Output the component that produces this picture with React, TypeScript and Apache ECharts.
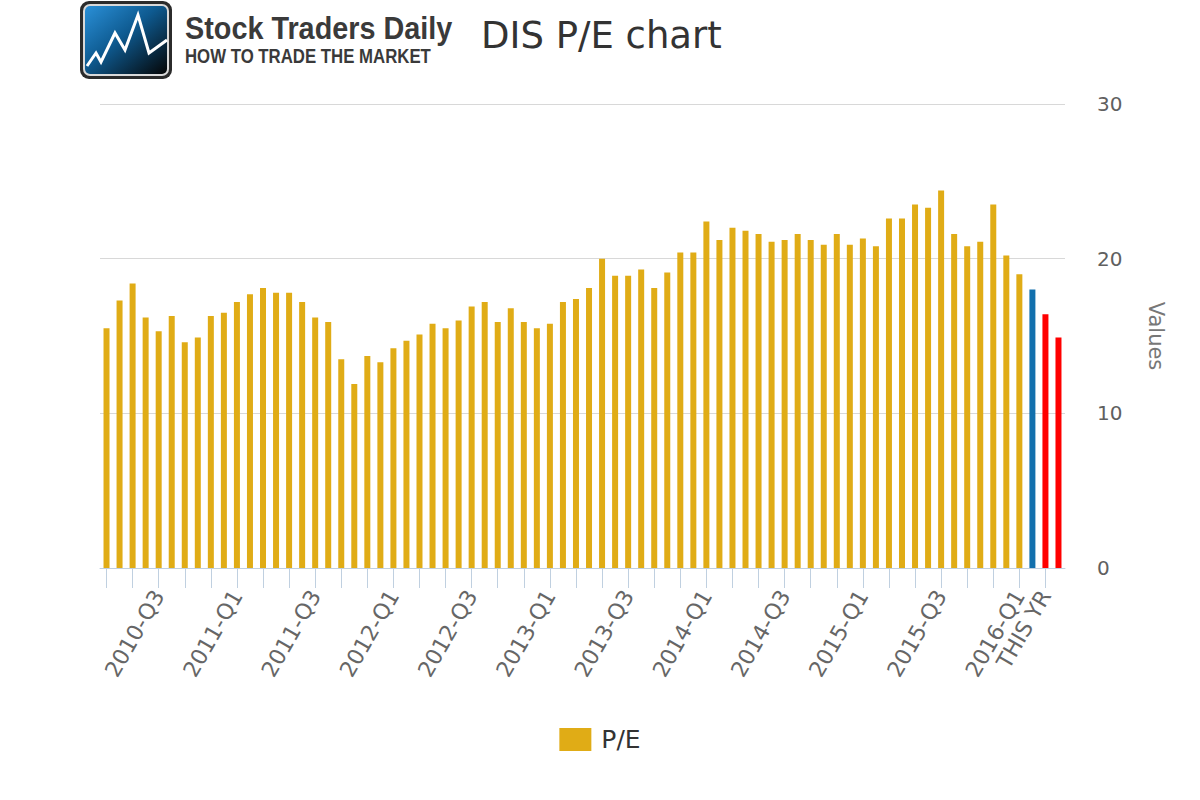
import React, { useEffect, useRef } from "react";
import * as echarts from "echarts";

const categories: string[] = [
  "2010-Q1",
  "2010-Q2", "2010-Q2", "2010-Q2",
  "2010-Q3", "2010-Q3", "2010-Q3",
  "2010-Q4", "2010-Q4", "2010-Q4",
  "2011-Q1", "2011-Q1", "2011-Q1",
  "2011-Q2", "2011-Q2", "2011-Q2",
  "2011-Q3", "2011-Q3", "2011-Q3",
  "2011-Q4", "2011-Q4", "2011-Q4",
  "2012-Q1", "2012-Q1", "2012-Q1",
  "2012-Q2", "2012-Q2", "2012-Q2",
  "2012-Q3", "2012-Q3", "2012-Q3",
  "2012-Q4", "2012-Q4", "2012-Q4",
  "2013-Q1", "2013-Q1", "2013-Q1",
  "2013-Q2", "2013-Q2", "2013-Q2",
  "2013-Q3", "2013-Q3", "2013-Q3",
  "2013-Q4", "2013-Q4", "2013-Q4",
  "2014-Q1", "2014-Q1", "2014-Q1",
  "2014-Q2", "2014-Q2", "2014-Q2",
  "2014-Q3", "2014-Q3", "2014-Q3",
  "2014-Q4", "2014-Q4", "2014-Q4",
  "2015-Q1", "2015-Q1", "2015-Q1",
  "2015-Q2", "2015-Q2", "2015-Q2",
  "2015-Q3", "2015-Q3", "2015-Q3",
  "2015-Q4", "2015-Q4", "2015-Q4",
  "2016-Q1", "2016-Q1",
  "THIS YR", "NEXT YR",
];

const peValues: number[] = [
  15.5, 17.3, 18.4, 16.2, 15.3, 16.3, 14.6, 14.9, 16.3, 16.5,
  17.2, 17.7, 18.1, 17.8, 17.8, 17.2, 16.2, 15.9, 13.5, 11.9,
  13.7, 13.3, 14.2, 14.7, 15.1, 15.8, 15.5, 16.0, 16.9, 17.2,
  15.9, 16.8, 15.9, 15.5, 15.8, 17.2, 17.4, 18.1, 20.0, 18.9,
  18.9, 19.3, 18.1, 19.1, 20.4, 20.4, 22.4, 21.2, 22.0, 21.8,
  21.6, 21.1, 21.2, 21.6, 21.2, 20.9, 21.6, 20.9, 21.3, 20.8,
  22.6, 22.6, 23.5, 23.3, 24.4, 21.6, 20.8, 21.1, 23.5, 20.2,
  19.0, 18.0, 16.4, 14.9,
];

const yTicks = [0, 10, 20, 30];

const GOLD = "#E0AC16";
const CURRENT_COLOR = "#1270AD";
const PROJECTION_COLOR = "#FF0000";
const CURRENT_INDEX = 71;
const PROJECTION_INDICES = [72, 73];

const labelIndices = new Set<number>([4, 10, 16, 22, 28, 34, 40, 46, 52, 58, 64, 70, 72]);

export default function App() {
  const ref = useRef<HTMLDivElement>(null);

  useEffect(() => {
    if (!ref.current) return;
    const chart = echarts.init(ref.current, null, { renderer: "svg" });

    const data = peValues.map((v, i) => {
      let color = GOLD;
      if (i === CURRENT_INDEX) color = CURRENT_COLOR;
      if (PROJECTION_INDICES.includes(i)) color = PROJECTION_COLOR;
      return { value: v, itemStyle: { color } };
    });

    const option: any = {
      animation: false,
      backgroundColor: "#ffffff",
      textStyle: { fontFamily: "DejaVu Sans" },
      title: {
        text: "DIS P/E chart",
        left: 476,
        top: 12,
        textStyle: {
          fontFamily: "DejaVu Sans",
          fontSize: 37,
          fontWeight: "normal",
          color: "#333333",
        },
      },
      legend: {
        left: "center",
        top: 722,
        itemWidth: 32,
        itemHeight: 23,
        itemGap: 10,
        icon: "rect",
        textStyle: {
          fontFamily: "DejaVu Sans",
          fontSize: 25,
          lineHeight: 23,
          color: "#333333",
          padding: [0, 0, 0, 5],
        },
        data: [{ name: "P/E", itemStyle: { color: GOLD } }],
      },
      grid: { left: 100, right: 135, top: 104, bottom: 232, containLabel: false },
      xAxis: {
        type: "category",
        data: categories,
        boundaryGap: true,
        axisLine: { show: true, lineStyle: { color: "#C0D0E0", width: 1 } },
        axisTick: {
          show: true,
          alignWithLabel: true,
          interval: 1,
          length: 20,
          lineStyle: { color: "#C0D0E0", width: 1 },
        },
        axisLabel: {
          interval: (idx: number) => labelIndices.has(idx),
          rotate: 60,
          margin: 24,
          fontFamily: "DejaVu Sans",
          fontSize: 22,
          color: "#666666",
        },
        splitLine: { show: false },
      },
      yAxis: {
        type: "value",
        position: "right",
        min: yTicks[0],
        max: yTicks[yTicks.length - 1],
        interval: 10,
        name: "Values",
        nameLocation: "middle",
        nameRotate: -90,
        nameGap: 80,
        nameTextStyle: {
          fontFamily: "DejaVu Sans",
          fontSize: 21,
          color: "#777777",
        },
        axisLine: { show: false },
        axisTick: { show: false },
        axisLabel: {
          margin: 32,
          fontFamily: "DejaVu Sans",
          fontSize: 20,
          color: "#606060",
        },
        splitLine: { show: true, lineStyle: { color: "#D8D8D8", width: 1 } },
      },
      series: [
        {
          name: "P/E",
          type: "bar",
          data,
          barWidth: 6,
          itemStyle: { color: GOLD },
        },
      ],
      graphic: [
        {
          type: "group",
          children: [
            {
              type: "rect",
              shape: { x: 80, y: 1, width: 92, height: 78, r: 9 },
              style: { fill: "#2b2b2b" },
            },
            {
              type: "rect",
              shape: { x: 83, y: 4, width: 86, height: 72, r: 7 },
              style: { fill: "#d9d9d9" },
            },
            {
              type: "rect",
              shape: { x: 85, y: 6, width: 82, height: 68, r: 5 },
              style: {
                fill: new echarts.graphic.LinearGradient(0, 0, 1, 1, [
                  { offset: 0, color: "#2a90d8" },
                  { offset: 0.45, color: "#0e5a90" },
                  { offset: 1, color: "#050505" },
                ]),
              },
            },
            {
              type: "polyline",
              shape: {
                points: [
                  [87, 66], [96, 53], [101, 62], [115, 33], [125, 50],
                  [138, 15], [149, 53], [167, 40],
                ],
              },
              style: { stroke: "#ffffff", lineWidth: 3, fill: null, lineJoin: "miter" },
            },
          ],
        },
        {
          type: "text",
          x: 185,
          y: 11,
          scaleX: 0.9,
          style: {
            text: "Stock Traders Daily",
            fontFamily: "Liberation Sans",
            fontWeight: "bold",
            fontSize: 32,
            fill: "#3a3a3a",
          },
        },
        {
          type: "text",
          x: 185,
          y: 46,
          scaleX: 0.84,
          style: {
            text: "HOW TO TRADE THE MARKET",
            fontFamily: "Liberation Sans",
            fontWeight: "bold",
            fontSize: 20,
            fill: "#3a3a3a",
          },
        },
      ],
    };

    chart.setOption(option);
    return () => chart.dispose();
  }, []);

  return (
    <div
      ref={ref}
      style={{ position: "fixed", left: 0, top: 0, width: 1200, height: 800 }}
    />
  );
}
